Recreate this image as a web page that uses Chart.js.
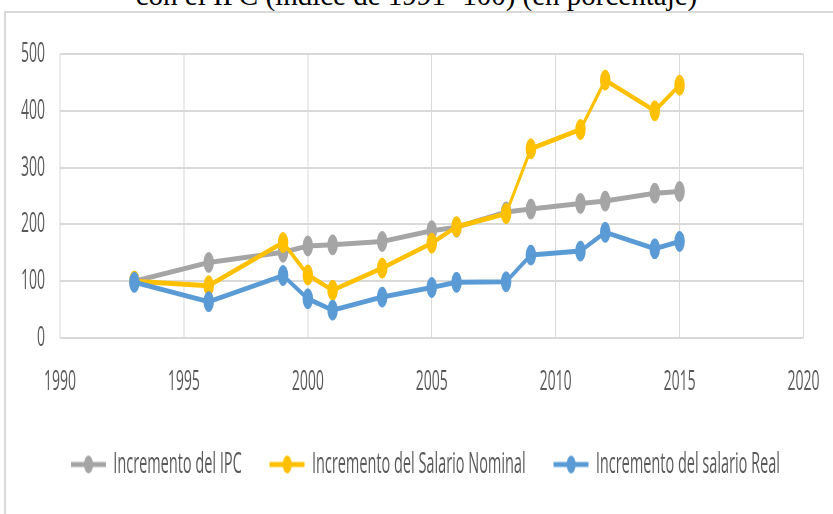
<!DOCTYPE html>
<html lang="es">
<head>
<meta charset="utf-8">
<title>Incremento del IPC y del salario</title>
<script src="https://cdn.jsdelivr.net/npm/chart.js@4.4.1/dist/chart.umd.min.js"></script>
<style>
  html, body { margin: 0; padding: 0; width: 833px; height: 514px; overflow: hidden; background: #fff; }
  #titulo { position: absolute; left: 0; top: -19px; width: 833px; text-align: center; font: 29px/1 "Liberation Serif", "Times New Roman", serif; color: #000; white-space: nowrap; }
  #marco { position: absolute; left: 4px; top: 11px; width: 900px; height: 600px; border: 2px solid #d9d9d9; box-sizing: border-box; }
  /* el gráfico se dibuja al doble de ancho y se comprime en horizontal */
  #lienzo { position: absolute; left: 0; top: 0; width: 1666px; height: 514px; transform: scaleX(0.5); transform-origin: 0 0; }
</style>
</head>
<body>
<div id="titulo">con el IPC (índice de 1991=100) (en porcentaje)</div>
<div id="marco"></div>
<div id="lienzo"><canvas id="grafico" width="1666" height="514"></canvas></div>
<script>
const anios = [1993, 1996, 1999, 2000, 2001, 2003, 2005, 2006, 2008, 2009, 2011, 2012, 2014, 2015];
const ipc = [100, 133, 151, 162, 164, 170, 189, 195, 222, 227, 237, 241, 255, 258];
const salarioNominal = [100, 92, 168, 111, 84, 123, 167, 196, 219, 333, 367, 454, 400, 445];
const salarioReal = [98, 64, 110, 69, 49, 72, 89, 98, 99, 146, 153, 186, 157, 170];
const ticksX = [1990, 1995, 2000, 2005, 2010, 2015, 2020];
const ticksY = [0, 100, 200, 300, 400, 500];

const GRIS = '#a5a5a5', AMARILLO = '#ffc000', AZUL = '#5b9bd5';
const REJILLA = '#d9d9d9';

// muestra de leyenda: línea con marcador en el centro
function muestra(color) {
  const c = document.createElement('canvas');
  c.width = 70; c.height = 22;
  const g = c.getContext('2d');
  g.strokeStyle = color; g.lineWidth = 5;
  g.beginPath(); g.moveTo(0, 11); g.lineTo(70, 11); g.stroke();
  g.fillStyle = color;
  g.beginPath(); g.arc(35, 11, 9, 0, Math.PI * 2); g.fill();
  return c;
}
const muestras = [muestra(GRIS), muestra(AMARILLO), muestra(AZUL)];

function serie(label, valores, color, orden) {
  return {
    label,
    data: anios.map((a, i) => ({ x: a, y: valores[i] })),
    borderColor: color,
    backgroundColor: color,
    borderWidth: 5,
    pointRadius: 10,
    pointBorderWidth: 1,
    pointBackgroundColor: color,
    pointBorderColor: color,
    tension: 0,
    order: orden
  };
}

// desplaza la leyenda para centrarla bajo el conjunto del gráfico
const moverLeyenda = {
  id: 'moverLeyenda',
  afterLayout(chart) {
    chart.legend.left += 25;
    chart.legend.right += 25;
  }
};

Chart.defaults.font.family = '"Open Sans", sans-serif';
Chart.defaults.font.size = 28;
Chart.defaults.color = '#595959';

new Chart(document.getElementById('grafico'), {
  type: 'line',
  data: {
    datasets: [
      serie('Incremento del IPC', ipc, GRIS, 3),
      serie('Incremento del Salario Nominal', salarioNominal, AMARILLO, 2),
      serie('Incremento del salario Real', salarioReal, AZUL, 1)
    ]
  },
  plugins: [moverLeyenda],
  options: {
    responsive: false,
    animation: false,
    devicePixelRatio: 1,
    layout: { padding: { left: 30, right: 44, top: 54, bottom: 25 } },
    scales: {
      x: {
        type: 'linear',
        min: ticksX[0],
        max: ticksX[ticksX.length - 1],
        afterFit: s => { s.height = 56; },
        afterBuildTicks: s => { s.ticks = ticksX.map(v => ({ value: v })); },
        ticks: { padding: 27, callback: v => String(v), maxRotation: 0 },
        grid: { color: REJILLA, lineWidth: 2, drawTicks: false },
        border: { display: false }
      },
      y: {
        min: ticksY[0],
        max: ticksY[ticksY.length - 1],
        afterFit: s => { s.width = 90; },
        afterBuildTicks: s => { s.ticks = ticksY.map(v => ({ value: v })); },
        ticks: { padding: 30, callback: v => String(v) },
        grid: { color: REJILLA, lineWidth: 2, drawTicks: false },
        border: { display: false }
      }
    },
    plugins: {
      tooltip: { enabled: false },
      legend: {
        position: 'bottom',
        labels: {
          usePointStyle: true,
          pointStyleWidth: 70,
          padding: 56,
          color: '#595959',
          font: { size: 29 },
          sort: (a, b) => a.datasetIndex - b.datasetIndex,
          generateLabels: chart =>
            Chart.defaults.plugins.legend.labels.generateLabels(chart)
              .map(it => ({ ...it, pointStyle: muestras[it.datasetIndex] }))
        }
      }
    }
  }
});
</script>
</body>
</html>
